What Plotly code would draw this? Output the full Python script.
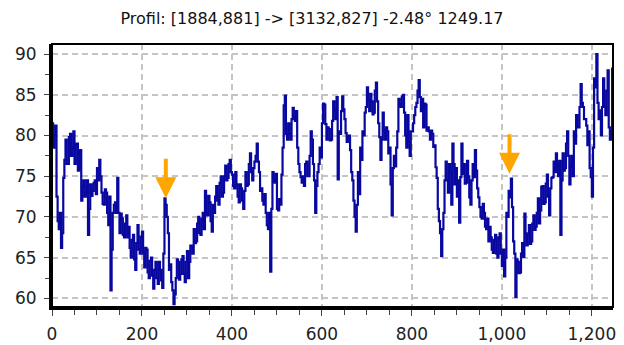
import plotly.graph_objects as go

# Profile readings every 5 units (x = 0, 5, 10, ...)
step = 5
profile_values = [
    81.5, 80.0, 72.5, 68.5, 66.2, 74.8, 79.5, 76.5, 80.2, 78.5,
    76.5, 79.0, 76.0, 72.0, 74.5, 73.0, 67.8, 74.0, 73.2, 74.5,
    76.0, 77.0, 73.0, 71.5, 73.0, 69.0, 61.0, 70.5, 71.8, 74.8,
    68.0, 69.8, 67.5, 70.2, 68.8, 65.0, 67.8, 63.5, 69.0, 65.5,
    68.2, 63.8, 66.0, 62.5, 65.0, 61.2, 64.5, 61.8, 63.5, 61.3,
    72.3, 70.0, 63.5, 62.0, 59.3, 62.5, 64.5, 63.0, 65.2, 62.0,
    65.8, 64.5, 66.5, 68.5, 67.0, 70.0, 67.8, 70.5, 73.2, 70.2,
    71.8, 68.2, 70.5, 73.8, 71.5, 75.0, 73.0, 76.3, 74.8, 77.0,
    75.2, 73.5, 74.0, 71.8, 73.5, 71.0, 75.5, 74.0, 77.8, 74.5,
    76.8, 79.0, 75.5, 73.5, 71.5, 70.5, 68.5, 63.3, 75.5, 74.2,
    71.0, 72.2, 75.2, 83.7, 80.2, 81.5, 79.5, 83.4, 81.8, 78.5,
    75.5, 74.2, 73.8, 76.8, 75.0, 80.5, 76.5, 70.5, 75.5, 78.5,
    81.5, 83.8, 79.5, 80.8, 79.5, 84.2, 82.0, 74.6, 80.2, 84.8,
    82.0, 79.2, 80.0, 75.5, 72.0, 68.2, 75.5, 78.5, 80.5, 82.8,
    85.9, 83.0, 84.2, 82.8, 86.5, 81.5, 77.0, 82.8, 79.5, 80.5,
    78.5, 70.2, 77.5, 78.5, 84.5, 83.5, 85.0, 80.0, 82.5, 77.5,
    80.5, 82.5, 84.0, 86.8, 83.0, 81.0, 83.8, 81.0, 79.5, 80.2,
    78.8, 74.8, 69.5, 65.2, 70.5, 76.8, 73.0, 75.5, 79.0, 74.0,
    72.5, 69.3, 79.0, 76.5, 74.2, 75.0, 71.5, 76.5, 78.2, 73.5,
    71.2, 69.8, 70.5, 68.5, 67.0, 67.5, 65.6, 67.8, 65.0, 68.0,
    64.0, 62.7, 70.5, 73.2, 74.7, 67.0, 60.2, 64.5, 63.2, 66.8,
    70.4, 66.5, 69.0, 67.0, 70.2, 68.8, 72.3, 70.8, 73.8, 71.8,
    75.2, 70.2, 74.8, 76.8, 77.8, 75.0, 67.8, 77.8, 76.0, 80.5,
    74.0, 77.5, 80.5, 82.5, 81.0, 86.3, 83.5, 82.0, 78.8, 76.0,
    72.5, 87.0, 90.0, 82.0, 80.0, 87.0, 82.5, 88.0, 79.5, 88.2,
]

# Readings between those (x = 2.5, 7.5, 12.5, ...)
profile_mid_values = [
    78.5, 81.2, 69.5, 70.5, 68.0, 77.0, 76.5, 79.8, 77.5, 80.5,
    78.8, 75.7, 78.2, 73.8, 72.5, 74.5, 71.0, 72.6, 74.2, 72.8,
    74.5, 75.0, 71.6, 73.4, 70.5, 72.5, 66.0, 71.5, 70.5, 70.5,
    70.4, 67.8, 69.2, 67.5, 66.2, 67.2, 64.8, 66.8, 66.0, 67.6,
    65.5, 66.2, 63.2, 64.6, 62.8, 63.5, 62.5, 64.5, 62.2, 65.5,
    71.5, 68.0, 64.2, 61.0, 60.5, 64.8, 62.3, 64.8, 63.0, 64.5,
    62.5, 66.5, 65.5, 66.8, 69.2, 68.0, 69.8, 68.5, 70.5, 72.6,
    69.5, 71.5, 72.5, 72.0, 74.2, 72.5, 75.0, 74.5, 76.5, 75.5,
    73.8, 75.5, 72.5, 74.0, 72.0, 73.2, 73.8, 76.5, 75.5, 76.0,
    77.5, 76.8, 73.2, 72.0, 72.8, 69.0, 70.5, 71.0, 74.5, 75.3,
    70.8, 71.5, 78.5, 84.9, 79.5, 80.2, 82.0, 82.2, 83.0, 76.5,
    74.9, 75.0, 76.5, 75.0, 77.5, 79.5, 74.5, 73.8, 76.5, 77.3,
    83.9, 81.4, 81.0, 79.4, 81.8, 83.1, 84.7, 80.5, 83.0, 83.2,
    80.3, 79.8, 78.2, 74.5, 70.0, 71.5, 72.8, 77.0, 80.0, 83.5,
    84.3, 85.1, 82.6, 85.5, 84.2, 79.8, 79.5, 80.6, 81.0, 77.8,
    74.0, 76.0, 76.2, 80.5, 83.8, 84.8, 82.8, 78.5, 79.2, 80.5,
    81.5, 83.5, 85.5, 84.7, 84.5, 83.9, 80.6, 80.5, 80.6, 78.6,
    76.1, 71.0, 68.0, 68.5, 74.5, 74.5, 76.5, 71.5, 76.5, 76.0,
    74.5, 74.9, 75.3, 74.1, 76.9, 72.4, 74.5, 74.9, 75.7, 72.4,
    70.0, 71.6, 68.8, 69.8, 68.8, 66.0, 67.2, 65.5, 67.5, 65.5,
    66.0, 65.0, 70.0, 72.4, 71.2, 65.5, 64.8, 63.1, 65.5, 65.1,
    68.0, 67.8, 66.7, 69.2, 68.4, 70.5, 69.2, 73.7, 71.6, 74.1,
    72.5, 73.5, 74.9, 75.5, 76.5, 76.9, 74.5, 75.7, 79.0, 77.5,
    76.2, 75.0, 79.0, 81.0, 83.5, 84.0, 82.0, 81.2, 80.5, 74.9,
    78.5, 85.9, 84.0, 83.1, 83.5, 83.5, 85.5, 81.0, 80.5, 84.0,
]

profile_x, profile_y = [], []
for i, (v, m) in enumerate(zip(profile_values, profile_mid_values)):
    profile_x += [i * step, i * step + step / 2]
    profile_y += [v, m]

title_text = "Profil: [1884,881] -> [3132,827] -2.48° 1249.17"

x_tickvals = [0, 200, 400, 600, 800, 1000, 1200]
y_tickvals = [60, 65, 70, 75, 80, 85, 90]

# Orange markers (arrow tips) in data units
arrow_x = [253, 1017]
arrow_tip_y = [72.3, 75.3]

fig = go.Figure()
fig.add_trace(go.Scatter(
    x=profile_x, y=profile_y, mode="lines",
    line=dict(color="#0808a0", width=2.2, shape="hv"),
    showlegend=False, hoverinfo="skip",
))

for ax_, ay_ in zip(arrow_x, arrow_tip_y):
    fig.add_annotation(
        x=ax_, y=ay_, xref="x", yref="y",
        ax=0, ay=-41, axref="pixel", ayref="pixel",
        showarrow=True, arrowhead=2, arrowsize=1.05, arrowwidth=4,
        arrowcolor="#ffa500", standoff=0, text="",
    )

grid_common = dict(gridcolor="#c4c4c4", gridwidth=1.5, griddash="6px,4px")
font_family = "DejaVu Sans, Arial, sans-serif"

# The page body adds an 8 px offset, so the figure is 8 px smaller on each axis
fig.update_layout(
    width=616, height=337,
    margin=dict(l=44, r=11, t=36, b=38, autoexpand=False),
    paper_bgcolor="white", plot_bgcolor="white",
    title=dict(text=title_text, x=0.4935, xref="container", xanchor="center",
               y=0.970, yref="container", yanchor="middle",
               font=dict(family=font_family, size=16, color="#111")),
    font=dict(family=font_family, color="#222"),
    xaxis=dict(
        range=[0, 1247], tickvals=x_tickvals, tickformat=",d", automargin=False,
        showline=True, linecolor="black", linewidth=3, mirror=False,
        ticks="outside", ticklen=6, tickwidth=1, tickcolor="#444",
        minor=dict(dtick=50, tick0=0, ticks="outside", ticklen=5, tickcolor="#444", showgrid=False),
        tickfont=dict(size=17, family=font_family, color="#222"),
        ticklabelstandoff=4,
        zeroline=False, showgrid=True, **grid_common,
    ),
    yaxis=dict(
        range=[58.95, 91.23], tickvals=y_tickvals, automargin=False,
        showline=True, linecolor="black", linewidth=3, mirror=False,
        ticks="outside", ticklen=5, tickwidth=1, tickcolor="#444",
        minor=dict(dtick=2.5, tick0=0, ticks="outside", ticklen=4, tickcolor="#444", showgrid=False),
        tickfont=dict(size=17, family=font_family, color="#222"),
        ticklabelstandoff=4,
        zeroline=False, showgrid=True, **grid_common,
    ),
    shapes=[dict(type="rect", xref="paper", yref="paper", x0=0, x1=1, y0=0, y1=1,
                 line=dict(color="black", width=2), layer="above")],
)

fig.write_html("out.html")
